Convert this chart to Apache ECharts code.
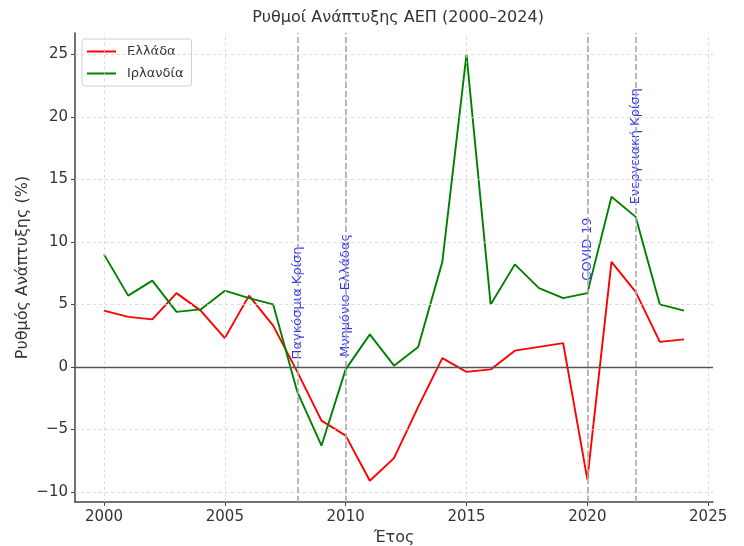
<!DOCTYPE html>
<html>
<head>
<meta charset="utf-8">
<script src="https://cdn.jsdelivr.net/npm/echarts@6/dist/echarts.min.js"></script>
<style>
html,body{margin:0;padding:0;background:#fff;}
#chart{width:744px;height:546px;}
</style>
</head>
<body>
<div id="chart"></div>
<script>
const years = [2000, 2001, 2002, 2003, 2004, 2005, 2006, 2007, 2008, 2009, 2010, 2011, 2012,
               2013, 2014, 2015, 2016, 2017, 2018, 2019, 2020, 2021, 2022, 2023, 2024];
const greece = [4.5, 4.0, 3.8, 5.9, 4.5, 2.3, 5.7, 3.3, -0.4, -4.3, -5.5, -9.1, -7.3,
                -3.2, 0.7, -0.4, -0.2, 1.3, 1.6, 1.9, -9.0, 8.4, 6.0, 2.0, 2.2];
const ireland = [9.0, 5.7, 6.9, 4.4, 4.6, 6.1, 5.5, 5.0, -2.0, -6.3, -0.2, 2.6, 0.1,
                 1.6, 8.4, 25.0, 5.0, 8.2, 6.3, 5.5, 5.9, 13.6, 12.0, 5.0, 4.5];
const eventYears = [2008, 2010, 2020, 2022];
const eventNames = ['Παγκόσμια Κρίση', 'Μνημόνιο Ελλάδας', 'COVID-19', 'Ενεργειακή Κρίση'];
const xTicks = [2000, 2005, 2010, 2015, 2020, 2025];
const yTicks = [-10, -5, 0, 5, 10, 15, 20, 25];

const FONT = 'DejaVu Sans';

// matplotlib-like 5% margins
const xMinD = Math.min(...years), xMaxD = Math.max(...years);
const xPad = (xMaxD - xMinD) * 0.05;
const allV = greece.concat(ireland);
const yMinD = Math.min(...allV), yMaxD = Math.max(...allV);
const yPad = (yMaxD - yMinD) * 0.05;

// label anchor: 1 unit above the higher of the two series at that year
const eventLabelData = eventYears.map((yr, i) => {
  const idx = years.indexOf(yr);
  return { name: eventNames[i], value: [yr, Math.max(greece[idx], ireland[idx]) + 1] };
});

const chart = echarts.init(document.getElementById('chart'));
chart.setOption({
  animation: false,
  backgroundColor: '#fff',
  textStyle: { fontFamily: FONT },
  title: {
    text: 'Ρυθμοί Ανάπτυξης ΑΕΠ (2000–2024)',
    left: 393, top: 5, textAlign: 'center',
    textStyle: { fontFamily: FONT, fontSize: 16, fontWeight: 'normal', color: '#333' }
  },
  grid: { left: 75, right: 31, top: 33, bottom: 44, containLabel: false, outerBoundsMode: 'none' },
  legend: {
    data: ['Ελλάδα', 'Ιρλανδία'],
    orient: 'vertical',
    left: 82, top: 39,
    padding: [5, 8, 5, 5],
    itemGap: 7,
    icon: 'rect',
    itemWidth: 29, itemHeight: 2,
    backgroundColor: '#fff',
    borderColor: '#d0d0d0', borderWidth: 1, borderRadius: 3,
    textStyle: { fontFamily: FONT, fontSize: 13, color: '#333', padding: [0, 0, 0, 6], lineHeight: 15 }
  },
  xAxis: {
    type: 'value',
    min: xMinD - xPad, max: xMaxD + xPad,
    name: 'Έτος', nameLocation: 'middle', nameGap: 28, nameMoveOverlap: false,
    nameTextStyle: { fontFamily: FONT, fontSize: 16, color: '#333' },
    axisLine: { show: true, onZero: false, lineStyle: { color: '#444', width: 1.5 } },
    axisTick: { show: true, customValues: xTicks, length: 4, lineStyle: { color: '#444' } },
    axisLabel: { customValues: xTicks, margin: 8, fontFamily: FONT, fontSize: 15, color: '#333',
                 formatter: v => String(v) },
    splitLine: { show: false }
  },
  yAxis: {
    type: 'value',
    min: yMinD - yPad, max: yMaxD + yPad,
    name: 'Ρυθμός Ανάπτυξης (%)', nameLocation: 'middle', nameGap: 44, nameMoveOverlap: false,
    nameTextStyle: { fontFamily: FONT, fontSize: 16, color: '#333' },
    axisLine: { show: true, onZero: false, lineStyle: { color: '#444', width: 1.5 } },
    axisTick: { show: true, customValues: yTicks, length: 4, lineStyle: { color: '#444' } },
    axisLabel: { customValues: yTicks, margin: 7, fontFamily: FONT, fontSize: 15, color: '#333',
                 formatter: v => String(v).replace('-', '−') },
    splitLine: { show: false }
  },
  series: [
    {
      name: 'grid', type: 'line', data: [], z: 1, silent: true,
      markLine: {
        silent: true, symbol: 'none', label: { show: false },
        lineStyle: { color: '#d3d3d3', type: [3, 3], width: 0.8 },
        data: xTicks.map(v => ({ xAxis: v })).concat(yTicks.map(v => ({ yAxis: v })))
      }
    },
    {
      name: 'events', type: 'line', data: [], z: 2, silent: true,
      markLine: {
        silent: true, symbol: 'none', label: { show: false },
        lineStyle: { color: '#a8a8a8', type: [6, 3], width: 1.6 },
        data: eventYears.map(v => ({ xAxis: v }))
      }
    },
    {
      name: 'zero', type: 'line', data: [], z: 2, silent: true,
      markLine: {
        silent: true, symbol: 'none', label: { show: false },
        lineStyle: { color: '#555', type: 'solid', width: 1.3 },
        data: [{ yAxis: 0 }]
      }
    },
    {
      name: 'Ελλάδα', type: 'line', z: 3, symbol: 'none',
      data: years.map((y, i) => [y, greece[i]]),
      lineStyle: { color: '#ff0000', width: 1.9 }, itemStyle: { color: '#ff0000' }
    },
    {
      name: 'Ιρλανδία', type: 'line', z: 3, symbol: 'none',
      data: years.map((y, i) => [y, ireland[i]]),
      lineStyle: { color: '#008000', width: 1.9 }, itemStyle: { color: '#008000' }
    },
    {
      name: 'eventLabels', type: 'scatter', z: 4, silent: true,
      symbolSize: 0,
      data: eventLabelData,
      label: {
        show: true, position: 'inside', formatter: '{b}', rotate: 90,
        align: 'left', verticalAlign: 'middle',
        color: '#0000ff', fontFamily: FONT, fontSize: 13
      }
    }
  ]
});
</script>
</body>
</html>
